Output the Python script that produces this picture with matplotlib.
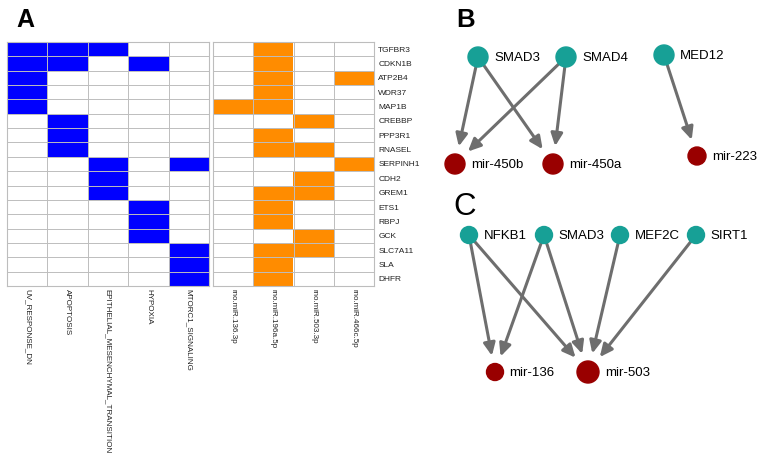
import numpy as np
import matplotlib.pyplot as plt
from matplotlib.colors import ListedColormap
from matplotlib.patches import FancyArrowPatch

plt.rcParams["font.family"] = ["Liberation Sans", "DejaVu Sans"]

# 遺伝子（行）
genes = ["TGFBR3", "CDKN1B", "ATP2B4", "WDR37", "MAP1B", "CREBBP", "PPP3R1",
         "RNASEL", "SERPINH1", "CDH2", "GREM1", "ETS1", "RBPJ", "GCK",
         "SLC7A11", "SLA", "DHFR"]

# パスウェイ（青）
pathways = ["UV_RESPONSE_DN", "APOPTOSIS", "EPITHELIAL_MESENCHYMAL_TRANSITION",
            "HYPOXIA", "MTORC1_SIGNALING"]
pathway_hits = [
    [1, 1, 1, 0, 0], [1, 1, 0, 1, 0], [1, 0, 0, 0, 0], [1, 0, 0, 0, 0],
    [1, 0, 0, 0, 0], [0, 1, 0, 0, 0], [0, 1, 0, 0, 0], [0, 1, 0, 0, 0],
    [0, 0, 1, 0, 1], [0, 0, 1, 0, 0], [0, 0, 1, 0, 0], [0, 0, 0, 1, 0],
    [0, 0, 0, 1, 0], [0, 0, 0, 1, 0], [0, 0, 0, 0, 1], [0, 0, 0, 0, 1],
    [0, 0, 0, 0, 1],
]

# miRNA（オレンジ）
mirnas = ["rno.miR.136.3p", "rno.miR.196a.5p", "rno.miR.503.3p", "rno.miR.466c.5p"]
mirna_hits = [
    [0, 1, 0, 0], [0, 1, 0, 0], [0, 1, 0, 1], [0, 1, 0, 0], [1, 1, 0, 0],
    [0, 0, 1, 0], [0, 1, 0, 0], [0, 1, 1, 0], [0, 0, 0, 1], [0, 0, 1, 0],
    [0, 1, 1, 0], [0, 1, 0, 0], [0, 1, 0, 0], [0, 0, 1, 0], [0, 1, 1, 0],
    [0, 1, 0, 0], [0, 1, 0, 0],
]

# ネットワーク B
b_tf = ["SMAD3", "SMAD4", "MED12"]
b_tf_pos = [(478, 57), (566, 57), (664, 55)]
b_mir = ["mir-450b", "mir-450a", "mir-223"]
b_mir_pos = [(455, 164), (553, 164), (697, 156)]
b_mir_size = [10, 10, 9]
b_edges = [("SMAD3", "mir-450b"), ("SMAD3", "mir-450a"), ("SMAD4", "mir-450b"),
           ("SMAD4", "mir-450a"), ("MED12", "mir-223")]

# ネットワーク C
c_tf = ["NFKB1", "SMAD3", "MEF2C", "SIRT1"]
c_tf_pos = [(469, 235), (544, 235), (620, 235), (696, 235)]
c_mir = ["mir-136", "mir-503"]
c_mir_pos = [(495, 372), (588, 372)]
c_mir_size = [8.5, 11]
c_edges = [("NFKB1", "mir-136"), ("NFKB1", "mir-503"), ("SMAD3", "mir-136"),
           ("SMAD3", "mir-503"), ("MEF2C", "mir-503"), ("SIRT1", "mir-503")]

W, H = 758, 463
fig = plt.figure(figsize=(W / 100, H / 100), dpi=100)


def heat(ax, data, color, cols, show_rows):
    arr = np.array(data)
    nr, nc = arr.shape
    ax.imshow(arr, cmap=ListedColormap(["white", color]), vmin=0, vmax=1,
              extent=(0, nc, nr, 0), aspect="auto", interpolation="nearest")
    # グリッド線
    ax.vlines(np.arange(1, nc), 0, nr, color="#bdbdbd", lw=0.7)
    ax.hlines(np.arange(1, nr), 0, nc, color="#bdbdbd", lw=0.7)
    ax.set_xlim(0, nc)
    ax.set_ylim(nr, 0)
    ax.set_xticks(np.arange(nc) + 0.5)
    ax.set_xticklabels(cols, rotation=-90, fontsize=5.8, va="top", color="#222222")
    ax.tick_params(length=0, pad=2)
    if show_rows:
        ax.yaxis.tick_right()
        ax.set_yticks(np.arange(nr) + 0.5)
        ax.set_yticklabels(genes, fontsize=6, color="#222222")
        ax.tick_params(axis="y", pad=3)
    else:
        ax.set_yticks([])
    for s in ax.spines.values():
        s.set_color("#bdbdbd")
        s.set_linewidth(0.8)


top, bot = 42, 286
ax1 = fig.add_axes([7 / W, 1 - bot / H, 202 / W, (bot - top) / H])
heat(ax1, pathway_hits, "#0000ff", pathways, False)
ax2 = fig.add_axes([213 / W, 1 - bot / H, 161 / W, (bot - top) / H])
heat(ax2, mirna_hits, "#ff8c00", mirnas, True)

# ネットワーク描画用の全面 axes
net = fig.add_axes([0, 0, 1, 1])
net.set_xlim(0, W)
net.set_ylim(H, 0)
net.axis("off")

teal = "#17a096"
red = "#990000"
grey = "#6e6e6e"


def draw_net(tf, tf_pos, tf_r, mir, mir_pos, mir_r, edges):
    pos = dict(zip(tf, tf_pos))
    mpos = dict(zip(mir, mir_pos))
    rad = dict(zip(mir, mir_r))
    for a, b in edges:
        arr = FancyArrowPatch(pos[a], mpos[b], arrowstyle="-|>,head_length=7.5,head_width=3.5",
                              color=grey, lw=2.2, shrinkA=tf_r * 0.72,
                              shrinkB=(rad[b] + 8) * 0.72, mutation_scale=1)
        net.add_patch(arr)
    for name, (x, y) in pos.items():
        net.add_patch(plt.Circle((x, y), tf_r, color=teal, zorder=3))
        net.text(x + tf_r + 6, y + 1, name, fontsize=9.5, va="center", ha="left")
    for name, (x, y) in mpos.items():
        net.add_patch(plt.Circle((x, y), rad[name], color=red, zorder=3))
        net.text(x + rad[name] + 6, y + 1, name, fontsize=9.5, va="center", ha="left")


draw_net(b_tf, b_tf_pos, 10, b_mir, b_mir_pos, b_mir_size, b_edges)
draw_net(c_tf, c_tf_pos, 8.5, c_mir, c_mir_pos, c_mir_size, c_edges)

net.text(16, 27, "A", fontsize=18, fontweight="bold")
net.text(456, 27, "B", fontsize=18.5, fontweight="bold")
net.text(453, 215, "C", fontsize=22.5)

fig.savefig("out.png", dpi=100)
plt.close(fig)
